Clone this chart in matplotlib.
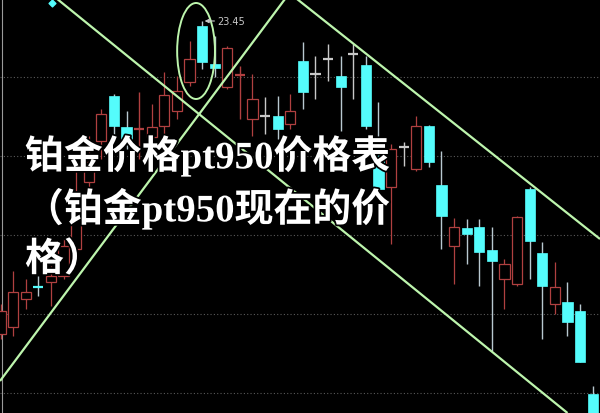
import matplotlib
matplotlib.use("Agg")
import matplotlib.pyplot as plt
from matplotlib.patches import Rectangle, Ellipse
import matplotlib.patheffects as pe

plt.rcParams['font.family'] = ['Noto Sans CJK SC', 'DejaVu Sans']

# ---- data (OHLC) ----
opens  = [20.32, 20.39, 20.67, 20.79, 20.84, 20.90, 21.17, 21.84, 22.25, 22.70,
          22.39, 22.36, 22.29, 22.40, 22.55, 22.84, 23.40, 23.02, 22.79, 22.91,
          22.47, 22.50, 22.50, 22.42, 23.05, 22.92, 23.07, 22.90, 23.12, 23.01,
          22.15, 21.79, 22.19, 21.97, 22.40, 21.81, 21.20, 21.38, 21.39, 21.16,
          20.87, 20.82, 21.77, 21.13, 20.62, 20.64, 20.55, 19.72]
highs  = [20.62, 20.95, 20.87, 20.90, 21.00, 21.27, 22.10, 22.30, 22.57, 22.72,
          22.55, 22.74, 22.62, 22.94, 22.90, 23.25, 23.45, 23.30, 23.20, 23.00,
          22.92, 22.69, 22.70, 22.72, 23.24, 23.10, 23.22, 23.10, 23.22, 23.10,
          22.64, 22.22, 22.24, 22.50, 22.41, 22.15, 21.48, 21.47, 21.47, 21.39,
          21.07, 21.50, 21.79, 21.24, 21.04, 20.84, 20.62, 19.80]
lows   = [20.27, 20.30, 20.57, 20.70, 20.60, 20.87, 21.12, 21.72, 22.07, 22.30,
          22.17, 22.07, 22.17, 22.30, 22.47, 22.80, 22.97, 22.89, 22.77, 22.47,
          22.30, 22.32, 22.27, 22.37, 22.57, 22.67, 22.85, 22.35, 22.67, 22.37,
          21.72, 21.22, 22.00, 21.95, 21.99, 21.17, 20.82, 21.02, 20.80, 20.15,
          20.57, 20.80, 20.87, 20.27, 20.52, 20.30, 20.04, 19.47]
closes = [20.55, 20.74, 20.74, 20.78, 20.90, 21.20, 21.67, 22.04, 22.52, 22.40,
          22.27, 22.37, 22.39, 22.71, 22.75, 23.07, 23.04, 22.98, 23.18, 22.92,
          22.67, 22.50, 22.37, 22.55, 22.74, 22.92, 23.07, 22.79, 23.12, 22.40,
          21.77, 22.17, 22.19, 22.40, 22.04, 21.50, 21.39, 21.32, 21.14, 21.05,
          21.02, 21.49, 21.25, 20.80, 20.79, 20.44, 20.04, 19.47]

peak_label = "23.45"
peak_index = 16
marker_point = (4.09, 23.63)

# trend lines (index, price) endpoints
trend_lines = [((4.5, 23.67), (45.0, 19.53)),
               ((-0.04, 19.85), (22.58, 23.67)),
               ((23.53, 23.67), (47.58, 21.27))]
ellipse_center = (15.52, 23.15)
ellipse_size = (3.0, 0.96)

grid_levels = [22.89, 22.10, 21.31, 20.52, 19.73]

title_lines = ["铂金价格pt950价格表", "（铂金pt950现在的价", "格）"]

# ---- style ----
RED = "#b04040"
CYAN = "#54fcfc"
GREY = "#c8c8c8"
GREEN = "#bdf5ad"

fig = plt.figure(figsize=(6.0, 4.14), dpi=100, facecolor="black")
ax = fig.add_axes([0, 0, 1, 1])
ax.set_facecolor("black")
ax.set_xlim(-0.04, 47.58)
ax.set_ylim(19.53, 23.67)
ax.axis("off")

for g in grid_levels:
    ax.axhline(g, color="#5a5a5a", lw=0.8, ls=(0, (1, 2)), zorder=1)

ax.axvline(0.12, color="#9a9a9a", lw=0.8, zorder=1)

bw = 0.8
for i, (o, h, l, c) in enumerate(zip(opens, highs, lows, closes)):
    top, bot = max(o, c), min(o, c)
    if c > o:
        col = RED
    elif c < o:
        col = CYAN
    else:
        col = GREY
    if abs(c - o) < 0.03:
        ax.vlines(i, l, h, color=col if col != CYAN else "#b8c8d0", lw=1.0, zorder=3)
        ax.hlines((o + c) / 2, i - bw / 2, i + bw / 2, color=col, lw=1.6, zorder=3)
        continue
    if c > o:
        ax.vlines(i, top, h, color=col, lw=0.9, zorder=3)
        ax.vlines(i, l, bot, color=col, lw=0.9, zorder=3)
        ax.add_patch(Rectangle((i - bw / 2, bot), bw, top - bot, facecolor="black",
                               edgecolor=col, lw=0.9, zorder=3))
    else:
        ax.vlines(i, l, h, color="#b8c8d0", lw=1.0, zorder=2)
        ax.add_patch(Rectangle((i - bw / 2, bot), bw, top - bot, facecolor=col,
                               edgecolor=col, lw=0.5, zorder=3))

ax.scatter([marker_point[0]], [marker_point[1]], marker="D", s=12, color=CYAN, zorder=4)

for (x0, y0), (x1, y1) in trend_lines:
    ax.plot([x0, x1], [y0, y1], color=GREEN, lw=1.6, zorder=5, solid_capstyle="butt")

ax.add_patch(Ellipse(ellipse_center, ellipse_size[0], ellipse_size[1], fill=False,
                     edgecolor=GREEN, lw=1.4, zorder=5))

ax.annotate(peak_label, xy=(peak_index + 0.2, highs[peak_index]),
            xytext=(peak_index + 1.2, highs[peak_index]),
            color="#c8c8c8", fontsize=7, va="center", ha="left",
            family=["DejaVu Sans"],
            arrowprops=dict(arrowstyle="-|>", color="#c8c8c8", lw=0.8,
                            mutation_scale=6, shrinkA=0, shrinkB=0), zorder=6)

ys = [157, 210, 262]
for t, yp in zip(title_lines, ys):
    fig.text(25 / 600, 1 - yp / 414, t, color="white", fontsize=28, fontweight="bold",
             va="center", ha="left", zorder=10,
             family=["Liberation Serif", "Noto Sans CJK SC"],
             path_effects=[pe.withStroke(linewidth=2.5, foreground="black")])

fig.savefig("out.png", dpi=100, facecolor="black")
